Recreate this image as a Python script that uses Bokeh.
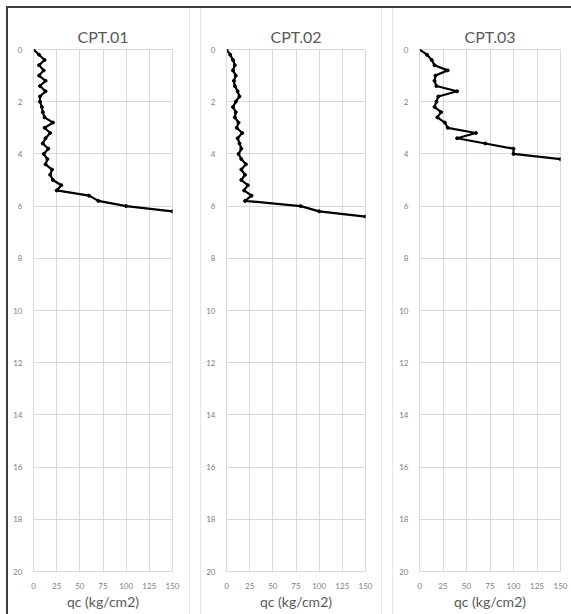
from bokeh.plotting import figure
from bokeh.layouts import row
from bokeh.models import Range1d, FixedTicker, Title, ColumnDataSource
from bokeh.embed import file_html
from bokeh.resources import INLINE

# ---- data ----
titles = ["CPT.01", "CPT.02", "CPT.03"]
x_label = "qc (kg/cm2)"
x_ticks = [0, 25, 50, 75, 100, 125, 150]
y_ticks = [0, 2, 4, 6, 8, 10, 12, 14, 16, 18, 20]

depth1 = [0.0, 0.2, 0.4, 0.6, 0.8, 1.0, 1.2, 1.4, 1.6, 1.8, 2.0, 2.2, 2.4, 2.6, 2.8, 3.0,
          3.2, 3.4, 3.6, 3.8, 4.0, 4.2, 4.4, 4.6, 4.8, 5.0, 5.2, 5.4, 5.6, 5.8, 6.0, 6.2]
qc1 = [0, 6, 12, 6, 11, 6, 13, 7, 13, 7, 7, 9, 10, 12, 21, 12,
       18, 13, 10, 16, 11, 15, 13, 20, 18, 21, 30, 25, 60, 70, 100, 150]

depth2 = [0.0, 0.2, 0.4, 0.6, 0.8, 1.0, 1.2, 1.4, 1.6, 1.8, 2.0, 2.2, 2.4, 2.6, 2.8, 3.0,
          3.2, 3.4, 3.6, 3.8, 4.0, 4.2, 4.4, 4.6, 4.8, 5.0, 5.2, 5.4, 5.6, 5.8, 6.0, 6.2, 6.4]
qc2 = [0, 4, 7, 9, 7, 10, 8, 9, 12, 14, 10, 7, 10, 9, 13, 11,
       17, 12, 14, 16, 13, 16, 21, 16, 20, 16, 23, 19, 27, 20, 80, 100, 150]

depth3 = [0.0, 0.2, 0.4, 0.6, 0.8, 1.0, 1.2, 1.4, 1.6, 1.8, 2.0, 2.2, 2.4, 2.6, 2.8, 3.0,
          3.2, 3.4, 3.6, 3.8, 4.0, 4.2]
qc3 = [0, 8, 13, 16, 30, 17, 16, 18, 40, 20, 18, 16, 23, 19, 27, 30,
       60, 40, 70, 100, 100, 150]

series = [(depth1, qc1), (depth2, qc2), (depth3, qc3)]

# ---- layout geometry (pixels) ----
widths = [182, 182, 179]
borders_left = [25, 25, 26]
borders_right = [18, 18, 12]
fig_height = 607
border_top = 41
border_bottom = 44

FONT = "Lato"
GRID = "#d9d9d9"

figs = []
for i, (d, q) in enumerate(series):
    p = figure(width=widths[i], height=fig_height, output_backend="svg",
               toolbar_location=None,
               x_range=Range1d(0, 150), y_range=Range1d(20, 0),
               min_border_left=borders_left[i], min_border_right=borders_right[i],
               min_border_top=border_top, min_border_bottom=border_bottom)
    p.title = Title(text=titles[i], align="center", text_font=FONT,
                    text_font_size="16px", text_font_style="normal",
                    text_color="#595959", standoff=8)
    p.outline_line_color = GRID
    p.xaxis.ticker = FixedTicker(ticks=x_ticks)
    p.yaxis.ticker = FixedTicker(ticks=y_ticks)
    for ax in (p.xaxis, p.yaxis):
        ax.axis_line_color = GRID
        ax.major_tick_line_color = None
        ax.minor_tick_line_color = None
        ax.major_label_text_font = FONT
        ax.major_label_text_font_size = "8px"
        ax.major_label_text_color = "#808080"
        ax.major_label_standoff = 5
    p.xaxis.axis_label = x_label
    p.xaxis.axis_label_text_font = FONT
    p.xaxis.axis_label_text_font_size = "14px"
    p.xaxis.axis_label_text_font_style = "normal"
    p.xaxis.axis_label_text_color = "#595959"
    p.xaxis.axis_label_standoff = 1
    p.xgrid.grid_line_color = GRID
    p.ygrid.grid_line_color = GRID
    p.background_fill_color = "white"
    p.border_fill_color = "white"

    src = ColumnDataSource(dict(depth=d, qc=q))
    p.line("qc", "depth", source=src, line_color="black", line_width=2.2)
    p.scatter("qc", "depth", source=src, size=3, color="black")
    figs.append(p)

figs[0].styles = {"border-right": "1px solid #e6e6e6"}
figs[1].styles = {"border-left": "1px solid #e6e6e6", "border-right": "1px solid #e6e6e6"}
figs[2].styles = {"border-left": "1px solid #e6e6e6"}

layout = row(figs, spacing=10,
             styles={"border-top": "2px solid #3c3c3c", "border-left": "2px solid #3c3c3c",
                     "margin-left": "6px", "margin-top": "6px"})

open("out.html", "w").write(file_html(layout, INLINE))
